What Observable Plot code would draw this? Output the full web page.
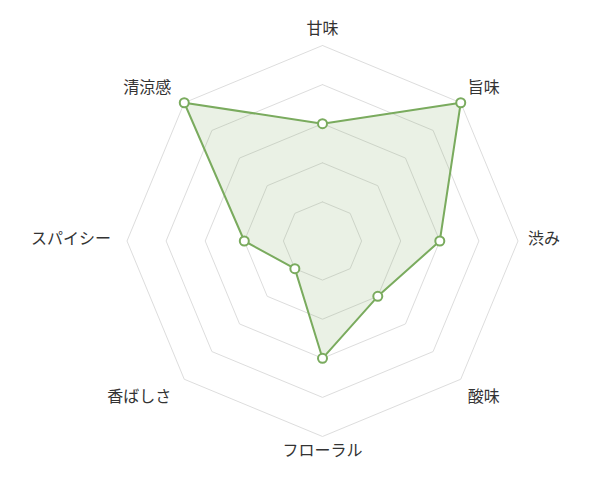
<!DOCTYPE html>
<html>
<head>
<meta charset="utf-8">
<script src="https://cdn.jsdelivr.net/npm/d3@7"></script>
<script src="https://cdn.jsdelivr.net/npm/@observablehq/plot@0.6"></script>
<style>
  html, body { margin: 0; padding: 0; background: #fff; }
  svg { display: block; }
</style>
</head>
<body>
<div id="chart"></div>
<script>
// Data
const categories = ["甘味", "旨味", "渋み", "酸味", "フローラル", "香ばしさ", "スパイシー", "清涼感"];
const values = [3, 5, 3, 2, 3, 1, 2, 5];
const ringLevels = [1, 2, 3, 4, 5];
const maxValue = 5;

// Layout
const W = 590, H = 482;
const cx = 322, cy = 240.5;   // chart centre in pixels
const k = 39.1;               // pixels per value unit
const green = "#7aab5e";

const n = categories.length;
const ang = i => (i / n) * 2 * Math.PI; // clockwise from top
const px = (v, i) => v * Math.sin(ang(i));
const py = (v, i) => v * Math.cos(ang(i));

// Rings
const rings = [];
for (const lv of ringLevels) {
  for (let i = 0; i <= n; i++) rings.push({level: lv, x: px(lv, i % n), y: py(lv, i % n)});
}
// Data polygon
const poly = [];
for (let i = 0; i <= n; i++) poly.push({x: px(values[i % n], i % n), y: py(values[i % n], i % n), cat: categories[i % n]});
const pts = poly.slice(0, n);

// Labels: placed just outside the outer ring, aligned by side
const lr = maxValue + 10 / k;
const labels = categories.map((c, i) => {
  const s = Math.sin(ang(i)), co = Math.cos(ang(i));
  const anchor = s > 0.1 ? "start" : s < -0.1 ? "end" : "middle";
  const diag = Math.abs(s) > 0.1 && Math.abs(co) > 0.1;
  let up = 0; // extra vertical shift in px (upward positive)
  if (Math.abs(co) <= 0.1) up = 2.5;
  else if (!diag) up = co > 0 ? 6.5 : -4;
  else up = co > 0 ? 7.7 : -10.2;
  const side = anchor === "end" ? -6 : 0;
  return {label: c, anchor, x: lr * s + side / k, y: lr * co + up / k};
});

const textStyle = {fontSize: 16, fill: "#333", fontFamily: "'Noto Sans CJK JP', 'Noto Sans', sans-serif"};

const plot = Plot.plot({
  width: W,
  height: H,
  margin: 0,
  x: {domain: [-cx / k, (W - cx) / k], axis: null},
  y: {domain: [-(H - cy) / k, cy / k], axis: null},
  style: {background: "#fff", fontFamily: "'Noto Sans CJK JP', sans-serif"},
  marks: [
    Plot.line(rings, {x: "x", y: "y", z: "level", stroke: "#dddddd", strokeWidth: 1}),
    Plot.line(poly, {x: "x", y: "y", fill: green, fillOpacity: 0.16, stroke: green, strokeWidth: 2, strokeLinejoin: "miter"}),
    Plot.dot(pts, {x: "x", y: "y", r: 4.5, fill: "#fff", stroke: green, strokeWidth: 2}),
    ...["start", "middle", "end"].map(a =>
      Plot.text(labels.filter(d => d.anchor === a), {x: "x", y: "y", text: "label", textAnchor: a, lineAnchor: "middle", ...textStyle})
    )
  ]
});
document.getElementById("chart").appendChild(plot);
</script>
</body>
</html>
